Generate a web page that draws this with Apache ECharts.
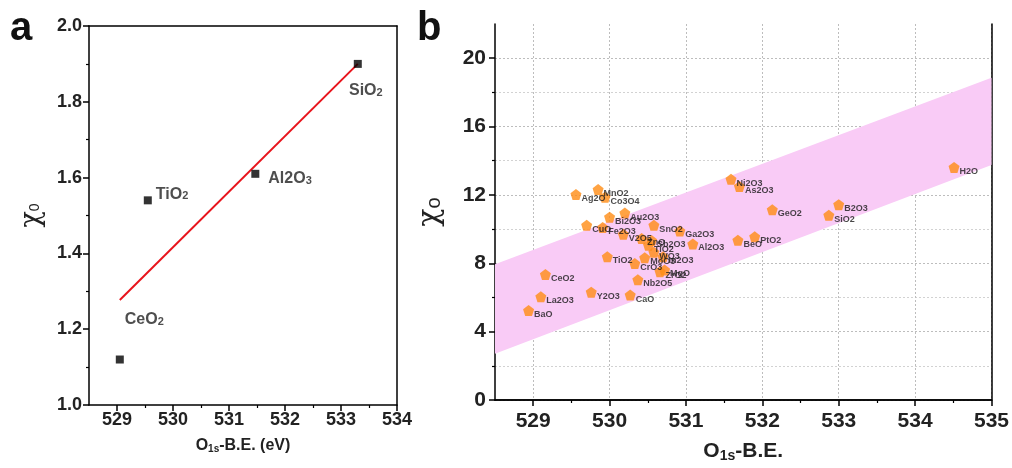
<!DOCTYPE html>
<html>
<head>
<meta charset="utf-8">
<script src="https://cdn.jsdelivr.net/npm/echarts@6/dist/echarts.min.js"></script>
<style>
  html, body { margin: 0; padding: 0; background: #fff; }
  #chart { width: 1012px; height: 468px; }
</style>
</head>
<body>
<div id="chart"></div>
<script>
// Panel a: four reference oxides and the linear fit
const aNames = ['CeO', 'TiO', 'Al2O', 'SiO'];
const aSubs = ['2', '2', '3', '2'];
const aBE = [529.05, 529.55, 531.47, 533.30];
const aChi = [1.12, 1.54, 1.61, 1.90];
const fitBE = [529.05, 533.30];
const fitChi = [1.277, 1.90];

// Panel b: oxide dataset
const oxideNames = ['BaO', 'La2O3', 'CeO2', 'Ag2O', 'MnO2', 'Co3O4', 'CuO', 'Fe2O3', 'Bi2O3', 'Au2O3',
  'V2O5', 'Y2O3', 'TiO2', 'CaO', 'Nb2O5', 'CrO3', 'ZnO', 'Sb2O3', 'TiO2', 'WO3', 'MoO3', 'In2O3',
  'ZrO2', 'MgO', 'SnO2', 'Ga2O3', 'Al2O3', 'Ni2O3', 'As2O3', 'BeO', 'PtO2', 'GeO2', 'SiO2', 'B2O3', 'H2O'];
const oxideBE = [528.94, 529.10, 529.16, 529.56, 529.85, 529.94, 529.70, 529.91, 530.00, 530.20,
  530.18, 529.76, 529.97, 530.27, 530.37, 530.33, 530.42, 530.55, 530.51, 530.58, 530.46, 530.70,
  530.66, 530.72, 530.58, 530.92, 531.09, 531.59, 531.70, 531.68, 531.90, 532.13, 532.87, 533.00, 534.51];
const oxideChi = [5.23, 6.04, 7.34, 12.02, 12.31, 11.87, 10.22, 10.09, 10.70, 10.94,
  9.70, 6.31, 8.38, 6.14, 7.03, 7.99, 9.45, 9.33, 9.05, 8.64, 8.32, 8.38,
  7.51, 7.61, 10.22, 9.89, 9.13, 12.91, 12.49, 9.35, 9.55, 11.13, 10.81, 11.43, 13.61];

// Shaded trend band (edges at the two ends of the axis)
const bandBE = [528.5, 535];
const bandLower = [2.7, 13.75];
const bandUpper = [7.95, 18.85];

// Tick labels
const aXTicks = [529, 530, 531, 532, 533, 534];
const aXMinor = [529.5, 530.5, 531.5, 532.5, 533.5];
const bXTicks = [529, 530, 531, 532, 533, 534, 535];
const bXMinor = [529.5, 530.5, 531.5, 532.5, 533.5, 534.5];
const bYTicks = [0, 4, 8, 12, 16, 20];
const bYMinor = [2, 6, 10, 14, 18];

const FONT = '"Liberation Sans", Arial, sans-serif';
const pentagon = 'path://M0,-1 L0.951,-0.309 L0.588,0.809 L-0.588,0.809 L-0.951,-0.309 Z';
const axisLine = { show: true, lineStyle: { color: '#000', width: 1.5 } };
const gridDash = { show: true, lineStyle: { color: '#bdbdbd', type: [2, 2], width: 1 } };

function frameAxis(grid, pos) {
  return { type: 'value', gridIndex: grid, position: pos, axisLine: axisLine,
    axisTick: { show: false }, axisLabel: { show: false }, splitLine: { show: false } };
}

const chart = echarts.init(document.getElementById('chart'), null, { renderer: 'canvas' });

const option = {
  backgroundColor: '#fff',
  animation: false,
  textStyle: { fontFamily: FONT },
  grid: [
    { left: 89, top: 26, width: 308, height: 379 },
    { left: 495, top: 24, width: 497, height: 379 }
  ],
  xAxis: [
    { type: 'value', gridIndex: 0, position: 'bottom', min: 528.5, max: 534,
      name: '{b|O}{s|1s}{b|-B.E. (eV)}', nameLocation: 'middle', nameGap: 33,
      nameTextStyle: { rich: {
        b: { fontSize: 16, fontWeight: 'bold', color: '#222', fontFamily: FONT },
        s: { fontSize: 10, fontWeight: 'bold', color: '#222', fontFamily: FONT, padding: [6, 0, 0, 0] } } },
      axisLine: axisLine,
      axisTick: { show: true, customValues: aXTicks, length: 6, lineStyle: { color: '#000', width: 1.5 } },
      axisLabel: { customValues: aXTicks, fontSize: 18, fontWeight: 'bold', color: '#222', margin: 6 },
      splitLine: { show: false } },
    { type: 'value', gridIndex: 0, position: 'bottom', min: 528.5, max: 534,
      axisLine: { show: false },
      axisTick: { show: true, customValues: aXMinor, length: 3, lineStyle: { color: '#000', width: 1.2 } },
      axisLabel: { show: false }, splitLine: { show: false } },
    Object.assign(frameAxis(0, 'top'), { min: 528.5, max: 534 }),
    { type: 'value', gridIndex: 1, position: 'bottom', min: 528.5, max: 535,
      name: '{b|O}{s|1s}{b|-B.E.}', nameLocation: 'middle', nameGap: 40,
      nameTextStyle: { rich: {
        b: { fontSize: 21, fontWeight: 'bold', color: '#222', fontFamily: FONT },
        s: { fontSize: 14, fontWeight: 'bold', color: '#222', fontFamily: FONT, padding: [9, 0, 0, 0] } } },
      axisLine: axisLine,
      axisTick: { show: true, customValues: bXTicks, length: 6, lineStyle: { color: '#000', width: 1.5 } },
      axisLabel: { customValues: bXTicks, fontSize: 21, fontWeight: 'bold', color: '#222', margin: 11 },
      splitLine: gridDash },
    { type: 'value', gridIndex: 1, position: 'bottom', min: 528.5, max: 535,
      axisLine: { show: false },
      axisTick: { show: true, customValues: bXMinor, length: 3, lineStyle: { color: '#000', width: 1.2 } },
      axisLabel: { show: false }, splitLine: { show: false } },
    Object.assign(frameAxis(1, 'top'), { min: 528.5, max: 535 })
  ],
  yAxis: [
    { type: 'value', gridIndex: 0, position: 'left', min: 1, max: 2, interval: 0.2,
      name: '{c|χ}{s|0}', nameLocation: 'middle', nameGap: 44, nameRotate: 90,
      nameTextStyle: { rich: {
        c: { fontSize: 27, color: '#222', fontFamily: 'DejaVu Serif' },
        s: { fontSize: 14, color: '#222', fontFamily: FONT, padding: [8, 0, 0, 0] } } },
      axisLine: axisLine,
      axisTick: { show: true, length: 6, lineStyle: { color: '#000', width: 1.5 } },
      minorTick: { show: true, splitNumber: 2, length: 3, lineStyle: { color: '#000', width: 1.2 } },
      axisLabel: { fontSize: 18, fontWeight: 'bold', color: '#222', margin: 7,
        formatter: v => v.toFixed(1) },
      splitLine: { show: false } },
    Object.assign(frameAxis(0, 'right'), { min: 1, max: 2 }),
    { type: 'value', gridIndex: 1, position: 'left', min: 0, max: 22,
      name: '{c|χ}{s|o}', nameLocation: 'middle', nameGap: 50, nameRotate: 90,
      nameTextStyle: { rich: {
        c: { fontSize: 30, color: '#222', fontFamily: 'DejaVu Serif' },
        s: { fontSize: 20, color: '#222', fontFamily: FONT, padding: [8, 0, 0, 0] } } },
      axisLine: axisLine,
      axisTick: { show: true, customValues: bYTicks, length: 6, lineStyle: { color: '#000', width: 1.5 } },
      axisLabel: { customValues: bYTicks, fontSize: 21, fontWeight: 'bold', color: '#222', margin: 9 },
      splitLine: gridDash },
    { type: 'value', gridIndex: 1, position: 'left', min: 0, max: 22,
      axisLine: { show: false },
      axisTick: { show: true, customValues: bYMinor, length: 3, lineStyle: { color: '#000', width: 1.2 } },
      axisLabel: { show: false },
      splitLine: { show: true, lineStyle: { color: '#d2d2d2', type: [2, 2], width: 1 } } },
    Object.assign(frameAxis(1, 'right'), { min: 0, max: 22 })
  ],
  graphic: [
    { type: 'text', left: 10, top: 9, style: { text: 'a', font: 'bold 40px ' + FONT, fill: '#111' } },
    { type: 'text', left: 417, top: 9, style: { text: 'b', font: 'bold 40px ' + FONT, fill: '#111' } }
  ],
  series: [
    // panel a fit line
    { type: 'line', xAxisIndex: 0, yAxisIndex: 0, symbol: 'none', z: 3,
      lineStyle: { color: '#e8141c', width: 2 },
      data: fitBE.map((x, i) => [x, fitChi[i]]) },
    // panel a points
    { type: 'scatter', xAxisIndex: 0, yAxisIndex: 0, symbol: 'rect', symbolSize: 8, z: 4,
      itemStyle: { color: '#000' },
      data: aBE.map((x, i) => ({
        value: [x, aChi[i]],
        label: [
          { position: 'right', offset: [-4, -40] },
          { position: 'right', offset: [-1, -6] },
          { position: 'right', offset: [4, 5] },
          { position: 'bottom', offset: [8, 10] }
        ][i]
      })),
      label: { show: true, color: '#222',
        formatter: p => '{m|' + aNames[p.dataIndex] + '}{s|' + aSubs[p.dataIndex] + '}',
        rich: {
          m: { fontSize: 16, fontWeight: 'bold', color: '#222', fontFamily: FONT },
          s: { fontSize: 11, fontWeight: 'bold', color: '#222', fontFamily: FONT, padding: [4, 0, 0, 0] }
        } } },
    // panel b trend band
    { type: 'custom', xAxisIndex: 3, yAxisIndex: 2, z: 1, silent: true,
      data: [0],
      renderItem: (params, api) => {
        const pts = [
          api.coord([bandBE[0], bandLower[0]]),
          api.coord([bandBE[1], bandLower[1]]),
          api.coord([bandBE[1], bandUpper[1]]),
          api.coord([bandBE[0], bandUpper[0]])
        ];
        return { type: 'polygon', shape: { points: pts }, style: { fill: '#f9cbf6' } };
      } },
    // panel b oxides
    { type: 'scatter', xAxisIndex: 3, yAxisIndex: 2, symbol: pentagon, symbolSize: 11, z: 4,
      itemStyle: { color: '#ff8c14' },
      data: oxideBE.map((x, i) => [x, oxideChi[i]]),
      label: { show: true, position: 'right', distance: 0, offset: [0, 4],
        formatter: p => oxideNames[p.dataIndex],
        fontSize: 9, fontWeight: 'bold', color: '#1a1a1a', fontFamily: FONT } }
  ]
};

chart.setOption(option);
</script>
</body>
</html>
